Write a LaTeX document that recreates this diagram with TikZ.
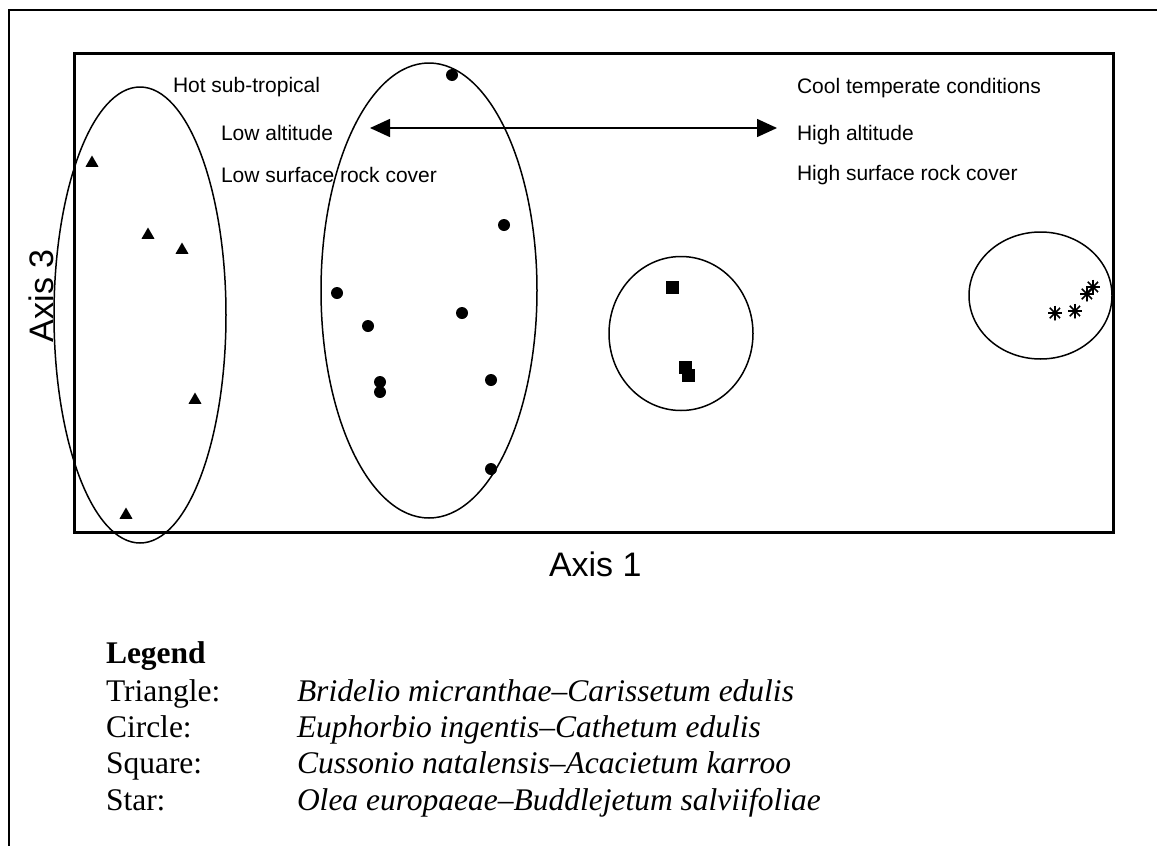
\documentclass[tikz,border=0pt]{standalone}
\usepackage{fontspec}
\setmainfont{Liberation Serif}
\setsansfont{Liberation Sans}
\usetikzlibrary{shapes.geometric}
\usetikzlibrary{arrows.meta}
\tikzset{x=1pt,y=-1pt, % One unit is one pixel of the layout, y runs downwards
every node/.style={inner sep=0pt,outer sep=0pt},
    chart/.style={ % Labels inside the ordination plot
        font=\sffamily\fontsize{21}{25}\selectfont,
        anchor=base west
    },
    axislabel/.style={font=\sffamily\fontsize{34}{40}\selectfont,anchor=base west},
    legendtext/.style={font=\fontsize{31.5}{36}\selectfont,anchor=base west},
    cluster/.style={ellipse,draw,line width=1.5pt}, % Rings round each community
    trimark/.style={regular polygon,regular polygon sides=3,fill,minimum size=15pt},
    dotmark/.style={circle,fill,minimum size=12pt},
    sqmark/.style={rectangle,fill,minimum size=13pt},
    starmark/.style={ % Asterisk made of four crossing strokes
        circle,minimum size=15pt,
        path picture={
            \foreach \a in {0,45,90,135}
                \draw[line width=1.6pt] ([shift={(\a:7.5pt)}]path picture bounding box.center)
                    -- ([shift={(\a+180:7.5pt)}]path picture bounding box.center);
        }
    },
    gradient/.style={<->,>={Triangle[length=20pt,width=18pt]},line width=1.5pt}
}

\begin{document}
\begin{tikzpicture}
\useasboundingbox (0,0) rectangle (1157,846);
\draw[line width=1.5pt] (9,846) -- (9,10) -- (1157,10);
\draw[line width=3pt] (74,53) rectangle (1113,532);

% communities
\node [cluster,minimum width=172pt,minimum height=456pt] (tri) at (140,315) {};
\node [cluster,minimum width=216pt,minimum height=455pt] (circ) at (429,290.5) {};
\node [cluster,minimum width=144pt,minimum height=154pt] (squ) at (681,333.5) {};
\node [cluster,minimum width=143pt,minimum height=127pt] (sta) at (1040.5,295.5) {};

% plot points
\node [trimark] (t1) at (92,163) {};
\node [trimark] (t2) at (148,235) {};
\node [trimark] (t3) at (182,250) {};
\node [trimark] (t4) at (195,400) {};
\node [trimark] (t5) at (126,515) {};

\node [dotmark] (c1) at (452,75) {};
\node [dotmark] (c2) at (504,225) {};
\node [dotmark] (c3) at (337,293) {};
\node [dotmark] (c4) at (368,326) {};
\node [dotmark] (c5) at (462,313) {};
\node [dotmark] (c6) at (380,382) {};
\node [dotmark] (c7) at (380,392) {};
\node [dotmark] (c8) at (491,380) {};
\node [dotmark] (c9) at (491,469) {};

\node [sqmark] (s1) at (672,287) {};
\node [sqmark] (s2) at (685,367) {};
\node [sqmark] (s3) at (688,375) {};

\node [starmark] (a1) at (1055,313) {};
\node [starmark] (a2) at (1075,311) {};
\node [starmark] (a3) at (1087,294) {};
\node [starmark] (a4) at (1093,287) {};

% gradient labels
\node [chart] (hot) at (173,92) {Hot sub-tropical};
\node [chart] (lowalt) at (221,140) {Low altitude};
\node [chart] (lowrock) at (221,182) {Low surface rock cover};
\node [chart] (cool) at (797,93) {Cool temperate conditions};
\node [chart] (highalt) at (797,140) {High altitude};
\node [chart] (highrock) at (797,180) {High surface rock cover};

\coordinate (arrL) at (370,128);
\coordinate (arrR) at (777,128);
\draw [gradient] (arrL) -- (arrR);

\node [axislabel] (ax1) at (549,576) {Axis 1};
\node [axislabel,rotate=90] (ax3) at (53,342) {Axis 3};

% legend
\node [legendtext,font=\bfseries\fontsize{31.5}{36}\selectfont] (leg) at (106,663) {Legend};
\node [legendtext] (l1) at (106,701) {Triangle:};
\node [legendtext] (l2) at (106,737) {Circle:};
\node [legendtext] (l3) at (106,773) {Square:};
\node [legendtext] (l4) at (106,810) {Star:};
\node [legendtext] (n1) at (297,701) {\itshape Bridelio micranthae--Carissetum edulis};
\node [legendtext] (n2) at (297,737) {\itshape Euphorbio ingentis--Cathetum edulis};
\node [legendtext] (n3) at (297,773) {\itshape Cussonio natalensis--Acacietum karroo};
\node [legendtext] (n4) at (297,810) {\itshape Olea europaeae--Buddlejetum salviifoliae};
\end{tikzpicture}
\end{document}
